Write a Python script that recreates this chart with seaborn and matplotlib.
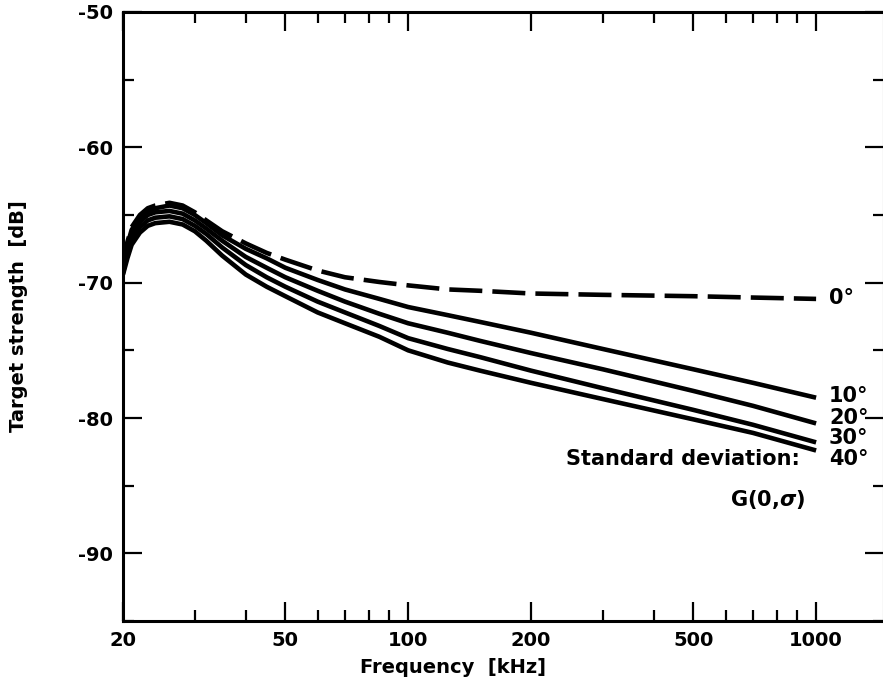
import matplotlib
matplotlib.use("Agg")
import matplotlib.pyplot as plt
import matplotlib.ticker as mticker
import seaborn as sns
import pandas as pd

# ---- data ----
freq_khz = [20, 20.5, 21, 22, 23, 24, 26, 28, 30, 32, 35, 40, 45, 50, 60, 70, 85, 100,
            125, 150, 200, 300, 500, 700, 1000]
ts_0 = [-69.0, -67.0, -65.9, -65.0, -64.5, -64.3, -64.1, -64.3, -64.8, -65.4, -66.2, -67.1,
        -67.8, -68.3, -69.1, -69.6, -69.95, -70.2, -70.5, -70.6, -70.8, -70.9, -71.0, -71.1,
        -71.2]
ts_10 = [-69.1, -67.2, -66.1, -65.2, -64.7, -64.5, -64.3, -64.5, -65.0, -65.6, -66.5, -67.5,
         -68.2, -68.9, -69.8, -70.5, -71.2, -71.8, -72.4, -72.9, -73.7, -74.9, -76.4, -77.4,
         -78.5]
ts_20 = [-69.2, -67.5, -66.4, -65.5, -65.0, -64.8, -64.7, -64.9, -65.4, -66.0, -66.9, -68.1,
         -68.9, -69.6, -70.6, -71.4, -72.3, -73.0, -73.7, -74.3, -75.2, -76.4, -78.0, -79.1,
         -80.4]
ts_30 = [-69.3, -67.8, -66.8, -65.9, -65.4, -65.2, -65.1, -65.3, -65.8, -66.4, -67.4, -68.7,
         -69.6, -70.3, -71.4, -72.2, -73.2, -74.1, -74.9, -75.5, -76.5, -77.8, -79.4, -80.5,
         -81.8]
ts_40 = [-69.4, -68.2, -67.2, -66.3, -65.8, -65.6, -65.5, -65.7, -66.2, -66.9, -68.0, -69.4,
         -70.3, -71.0, -72.2, -73.0, -74.0, -75.0, -75.9, -76.5, -77.4, -78.6, -80.1, -81.1,
         -82.4]
sigma_labels = ["0°", "10°", "20°", "30°", "40°"]
label_y = [-71.1, -78.4, -80.0, -81.5, -83.0]

x_major = [20, 50, 100, 200, 500, 1000]
x_minor = [30, 40, 60, 70, 80, 90, 300, 400, 600, 700, 800, 900]
y_major = [-50, -60, -70, -80, -90]
y_minor = [-55, -65, -75, -85, -95]

series = [ts_0, ts_10, ts_20, ts_30, ts_40]
rows = []
for lab, vals in zip(sigma_labels, series):
    for f, v in zip(freq_khz, vals):
        rows.append({"freq": f, "ts": v, "sigma": lab})
df = pd.DataFrame(rows)

sns.set_theme(style="ticks")
plt.rcParams["font.family"] = ["DejaVu Sans"]
plt.rcParams["font.weight"] = "bold"
plt.rcParams["axes.unicode_minus"] = False

fig = plt.figure(figsize=(8.83, 6.83), dpi=100)
ax = fig.add_axes([123 / 883, 1 - 621 / 683, (884 - 123) / 883, (621 - 12) / 683])

dashes = {"0°": (7.2, 2.2), "10°": "", "20°": "", "30°": "", "40°": ""}
sns.lineplot(data=df, x="freq", y="ts", hue="sigma", style="sigma",
             palette=["black"] * 5, dashes=dashes, linewidth=3.3,
             legend=False, ax=ax, estimator=None)
for line in ax.get_lines():
    line.set_solid_capstyle("butt")
    line.set_dash_capstyle("butt")
    line.set_solid_joinstyle("round")

ax.set_xscale("log")
ax.set_xlim(20, 1467)
ax.set_ylim(-95, -50)

ax.xaxis.set_major_locator(mticker.FixedLocator(x_major))
ax.xaxis.set_minor_locator(mticker.FixedLocator(x_minor))
ax.xaxis.set_major_formatter(mticker.FixedFormatter([str(v) for v in x_major]))
ax.xaxis.set_minor_formatter(mticker.NullFormatter())
ax.yaxis.set_major_locator(mticker.FixedLocator(y_major))
ax.yaxis.set_minor_locator(mticker.FixedLocator(y_minor))
ax.yaxis.set_major_formatter(mticker.FixedFormatter([str(v) for v in y_major]))

ax.tick_params(which="both", direction="in", top=True, right=True, color="black",
               labelsize=14, labelcolor="black")
ax.tick_params(which="major", length=14, width=1.6, pad=7)
ax.tick_params(which="minor", length=8, width=1.6)
for lbl in ax.get_xticklabels() + ax.get_yticklabels():
    lbl.set_fontweight("bold")

for sp in ax.spines.values():
    sp.set_linewidth(2.2)
    sp.set_color("black")

ax.set_xlabel("Frequency  [kHz]", fontsize=14, fontweight="bold", color="black")
ax.set_ylabel("Target strength  [dB]", fontsize=14, fontweight="bold", color="black")
ax.xaxis.set_label_coords((453 - 123) / 761, (621 - 658) / 609)
ax.yaxis.set_label_coords((28 - 123) / 761, 0.5)

for lab, yv in zip(sigma_labels, label_y):
    ax.text(1075, yv, lab, fontsize=15, fontweight="bold", ha="left", va="center", color="black")
ax.text(910, -83.0, "Standard deviation:", fontsize=15, fontweight="bold",
        ha="right", va="center", color="black")
ax.text(616, -86.0, r"G(0,$\sigma$)", fontsize=15, fontweight="bold",
        ha="left", va="center", color="black")

fig.savefig("out.png", dpi=100)
